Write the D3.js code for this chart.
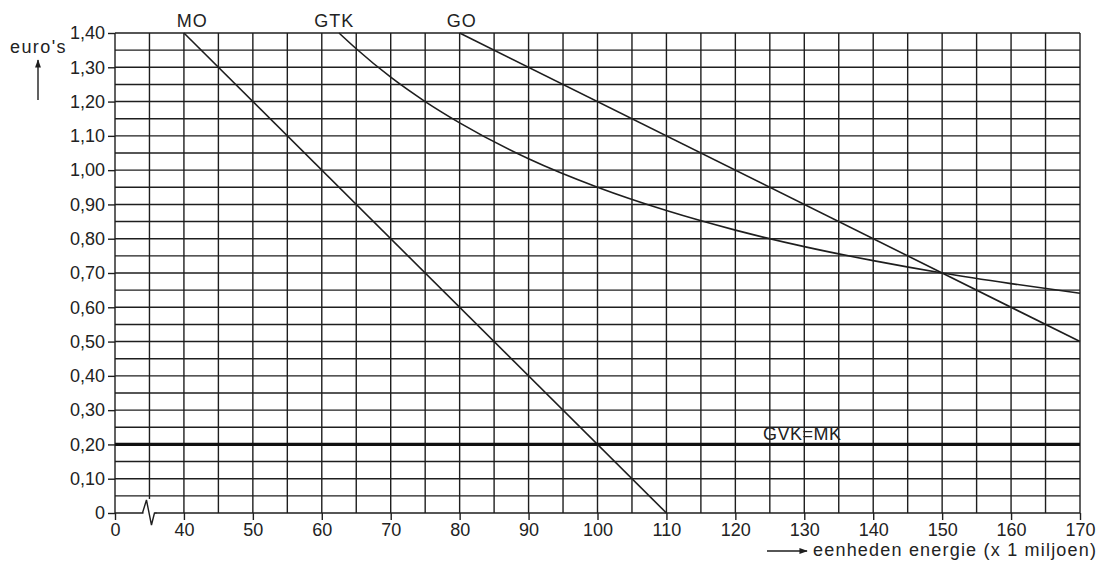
<!DOCTYPE html>
<html>
<head>
<meta charset="utf-8">
<script src="https://cdn.jsdelivr.net/npm/d3@7"></script>
<style>
  body { margin: 0; background: #fff; }
  text { font-family: "Liberation Sans", Arial, sans-serif; fill: #222; }
</style>
</head>
<body>
<svg id="chart"></svg>
<script>
// values
const xTicks = [0, 40, 50, 60, 70, 80, 90, 100, 110, 120, 130, 140, 150, 160, 170];
const yTicks = [0, 0.1, 0.2, 0.3, 0.4, 0.5, 0.6, 0.7, 0.8, 0.9, 1.0, 1.1, 1.2, 1.3, 1.4];

const moPoints = [[40, 1.40], [110, 0]];
const goPoints = [[80, 1.40], [170, 0.50]];
const gtkPoints = [[62.5, 1.40], [65, 1.354], [70, 1.271], [75, 1.20], [80, 1.138], [90, 1.033],
  [100, 0.95], [110, 0.882], [120, 0.825], [130, 0.777], [140, 0.736], [150, 0.70],
  [160, 0.669], [170, 0.641]];
const gvkPoints = [[0, 0.20], [170, 0.20]];

const width = 1100, height = 571;
const margin = ({ top: 33, right: 20, bottom: 58, left: 115 });

const svg = d3.select("#chart")
  .attr("width", width)
  .attr("height", height);

// the axis is broken between 0 and 40: 0 sits where 30 would be
const x = d3.scaleLinear()
  .domain([30, 170])
  .range([margin.left, width - margin.right]);
const xp = v => x(v < 30 ? 30 : v);

const y = d3.scaleLinear()
  .domain([0, 1.4])
  .range([height - margin.bottom, margin.top]);

const ink = "#1e1e1e";

// grid
const grid = svg.append("g").attr("stroke", ink).attr("stroke-width", 1.4);
grid.selectAll(".v")
  .data(d3.range(30, 171, 5))
  .join("line")
  .attr("x1", d => x(d)).attr("x2", d => x(d))
  .attr("y1", y(0)).attr("y2", y(1.4));
grid.selectAll(".h")
  .data(d3.range(0, 29).map(i => i * 0.05))
  .join("line")
  .attr("x1", x(30)).attr("x2", x(170))
  .attr("y1", d => y(d)).attr("y2", d => y(d));

// break mark on the x axis
const bx = x(35);
svg.append("rect")
  .attr("x", bx - 6).attr("y", y(0) - 14)
  .attr("width", 12).attr("height", 15)
  .attr("fill", "#fff");
svg.append("path")
  .attr("d", `M${bx - 7},${y(0)} L${bx - 3},${y(0) - 13} L${bx + 2},${y(0) + 12} L${bx + 5},${y(0)} L${bx + 7},${y(0)}`)
  .attr("fill", "none").attr("stroke", ink).attr("stroke-width", 1.4);

// axes
const fmt = d => d === 0 ? "0" : d3.format(".2f")(d).replace(".", ",");
const styleAxis = g => {
  g.select(".domain").remove();
  g.selectAll("line").attr("stroke", ink).attr("stroke-width", 1.4);
  g.selectAll("text").attr("font-size", 18).attr("fill", "#222")
    .style("font-family", "'Liberation Sans', Arial, sans-serif");
};

svg.append("g")
  .attr("transform", `translate(${margin.left},0)`)
  .call(d3.axisLeft(y).tickValues(yTicks).tickSize(7).tickPadding(3).tickFormat(fmt))
  .call(styleAxis);

svg.append("g")
  .attr("transform", `translate(0,${y(0)})`)
  .call(d3.axisBottom(x)
    .tickValues(xTicks.map(d => d === 0 ? 30 : d))
    .tickSize(7).tickPadding(3)
    .tickFormat((d, i) => xTicks[i]))
  .call(styleAxis);

// curves
const line = d3.line().x(d => xp(d[0])).y(d => y(d[1]));
const curve = d3.line().x(d => xp(d[0])).y(d => y(d[1])).curve(d3.curveMonotoneX);

svg.append("path").datum(moPoints).attr("d", line)
  .attr("fill", "none").attr("stroke", ink).attr("stroke-width", 1.6);
svg.append("path").datum(goPoints).attr("d", line)
  .attr("fill", "none").attr("stroke", ink).attr("stroke-width", 1.6);
svg.append("path").datum(gtkPoints).attr("d", curve)
  .attr("fill", "none").attr("stroke", ink).attr("stroke-width", 1.6);
svg.append("path").datum(gvkPoints).attr("d", line)
  .attr("fill", "none").attr("stroke", "#111").attr("stroke-width", 3.2);

// curve labels
const labels = [["MO", 41.2], ["GTK", 61.8], ["GO", 80.3]];
svg.selectAll(".lbl")
  .data(labels)
  .join("text")
  .attr("x", d => x(d[1]))
  .attr("y", margin.top - 6)
  .attr("text-anchor", "middle")
  .attr("font-size", 18)
  .attr("letter-spacing", 1)
  .text(d => d[0]);

svg.append("text")
  .attr("x", x(124.0)).attr("y", y(0.2) - 4)
  .attr("font-size", 18)
  .attr("letter-spacing", 0.5)
  .text("GVK=MK");

// axis titles
svg.append("text")
  .attr("x", 10).attr("y", 53)
  .attr("font-size", 18)
  .attr("letter-spacing", 1.4)
  .text("euro's");

svg.append("defs").append("marker")
  .attr("id", "arr")
  .attr("viewBox", "0 0 10 10")
  .attr("refX", 9).attr("refY", 5)
  .attr("markerWidth", 6).attr("markerHeight", 6)
  .attr("orient", "auto")
  .append("path")
  .attr("d", "M0,1.5 L10,5 L0,8.5 Z")
  .attr("fill", ink);

svg.append("line")
  .attr("x1", 38).attr("x2", 38)
  .attr("y1", 100).attr("y2", 60)
  .attr("stroke", ink).attr("stroke-width", 1.4)
  .attr("marker-end", "url(#arr)");

svg.append("line")
  .attr("x1", 767).attr("x2", 807)
  .attr("y1", 551).attr("y2", 551)
  .attr("stroke", ink).attr("stroke-width", 1.4)
  .attr("marker-end", "url(#arr)");

svg.append("text")
  .attr("x", 813).attr("y", 556)
  .attr("font-size", 18)
  .attr("letter-spacing", 1.2)
  .text("eenheden energie (x 1 miljoen)");
</script>
</body>
</html>
